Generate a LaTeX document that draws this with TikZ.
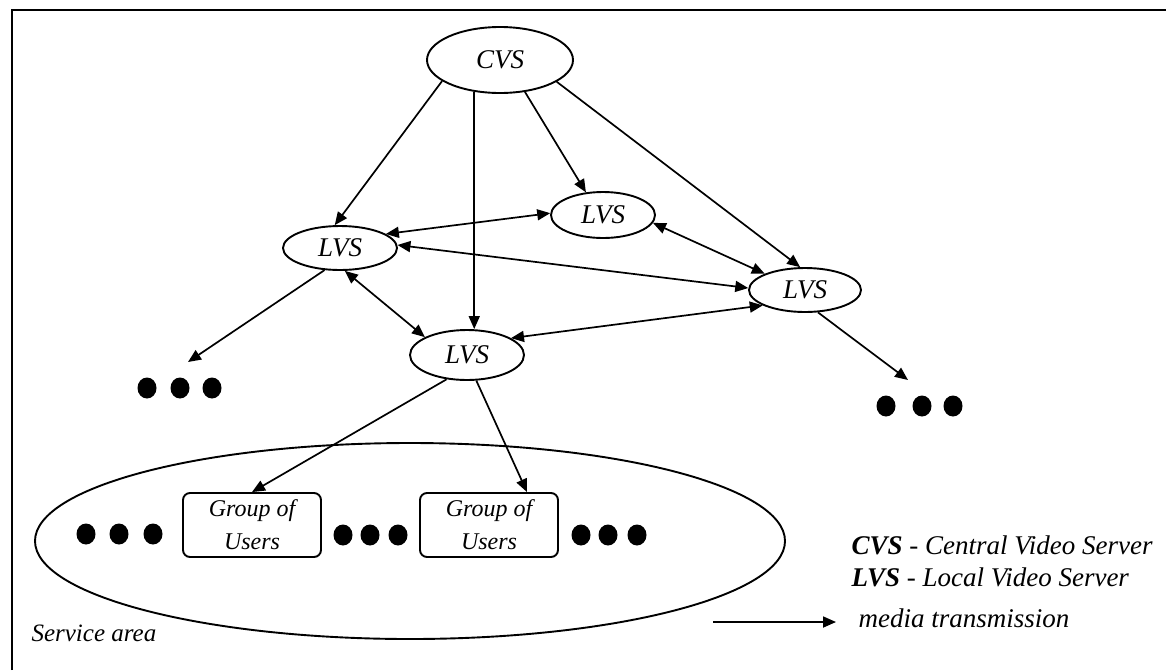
\documentclass[tikz,border=0pt]{standalone}
\usepackage{fontspec}
\setmainfont{Liberation Serif}
\usetikzlibrary{shapes.geometric,arrows.meta}
\begin{document}
\begin{tikzpicture}[x=1pt,y=-1pt,
  every node/.style={font=\itshape\fontsize{27}{30}\selectfont},
  server/.style={ellipse,draw,line width=1.9pt,inner sep=0pt},
  group/.style={draw,rounded corners=7pt,line width=1.9pt,minimum width=138pt,
    minimum height=64pt,align=center,inner sep=0pt,
    font=\itshape\fontsize{24}{33}\selectfont},
  dot/.style={ellipse,fill,inner sep=0pt,minimum width=19pt,minimum height=21pt},
  link/.style={line width=1.7pt,-{Triangle[length=13pt,width=11pt]}},
  both/.style={line width=1.7pt,{Triangle[length=13pt,width=11pt]}-{Triangle[length=13pt,width=11pt]}},
  legend/.style={anchor=west,font=\itshape\fontsize{27}{30}\selectfont},
]
\useasboundingbox (0,0) rectangle (1166,670);
% frame
\draw[line width=2.2pt] (12,670) -- (12,10) -- (1166,10);

% servers
\node[server,minimum width=146pt,minimum height=66pt] (cvs) at (500,60) {CVS};
\node[server,minimum width=114pt,minimum height=44pt] (lvsL) at (340,248) {LVS};
\node[server,minimum width=104pt,minimum height=46pt] (lvsM) at (603,215) {LVS};
\node[server,minimum width=112pt,minimum height=44pt] (lvsR) at (805,290) {LVS};
\node[server,minimum width=114pt,minimum height=50pt] (lvsB) at (467,355) {LVS};

% service area
\node[ellipse,draw,line width=1.9pt,minimum width=750pt,minimum height=196pt] (area) at (410,541) {};
\node[anchor=west,font=\itshape\fontsize{25}{30}\selectfont] (arealabel) at (28,633) {Service area};

% groups of users
\node[group] (g1) at (252,525) {Group of\\Users};
\node[group] (g2) at (489,525) {Group of\\Users};

% dots
\foreach \x [count=\i] in {147,180,212} \node[dot] (tl\i) at (\x,388) {};
\foreach \x [count=\i] in {886,922,953} \node[dot] (tr\i) at (\x,406) {};
\foreach \x [count=\i] in {86,119,153} \node[dot] (al\i) at (\x,534) {};
\foreach \x [count=\i] in {343,370,398} \node[dot] (am\i) at (\x,535) {};
\foreach \x [count=\i] in {581,608,637} \node[dot] (ar\i) at (\x,535) {};

\coordinate (tlend) at (188,362);
\coordinate (trend) at (908,380);

% CVS to local servers
\draw[link] (cvs.200) -- (lvsL.103);
\draw[link] (cvs.231) -- (cvs.231 |- lvsB.north);
\draw[link] (cvs.308) -- (lvsM.127);
\draw[link] (cvs.339) -- (lvsR.102);

% between local servers
\draw[both] (lvsL.17) -- (lvsM.178);
\draw[both] (lvsM.351) -- (lvsR.158);
\draw[both] (lvsL.3) -- (lvsR.178);
\draw[both] (lvsL.282) -- (lvsB.157);
\draw[both] (lvsB.21) -- (lvsR.200);

% towards users
\draw[link] (lvsL.235) -- (tlend);
\draw[link] (lvsR.300) -- (trend);
\draw[link] (lvsB.230) -- (g1.north);
\draw[link] (lvsB.290) -- (g2.north -| {(527,0)});

% legend
\node[legend] (l1) at (848,545) {\textbf{CVS} - Central Video Server};
\node[legend] (l2) at (848,577) {\textbf{LVS} - Local Video Server};
\coordinate (ms) at (713,622);
\coordinate (me) at (836,622);
\draw[link] (ms) -- (me);
\node[legend] (l3) at (855,618) {media transmission};
\end{tikzpicture}
\end{document}
